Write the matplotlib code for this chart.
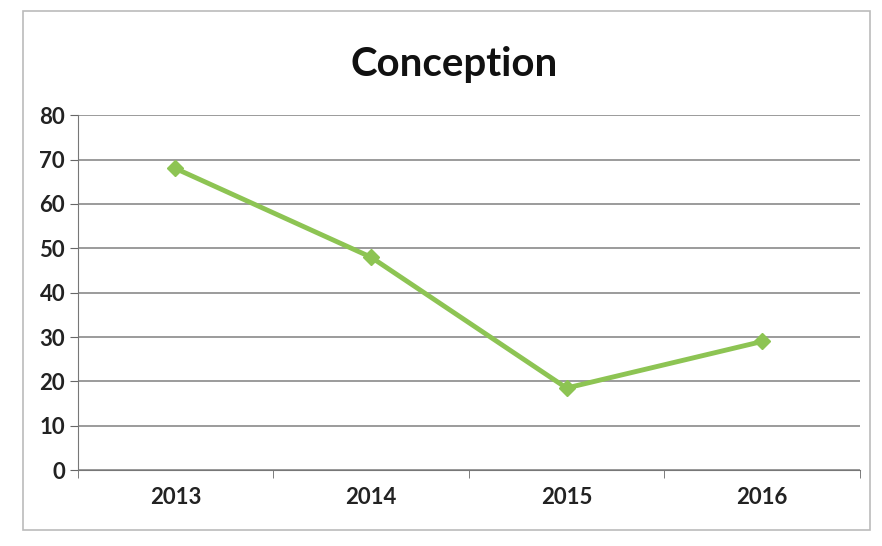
import numpy as np
import matplotlib.pyplot as plt
from matplotlib.patches import Rectangle

# data
years = ["2013", "2014", "2015", "2016"]
values = [68, 48, 18.5, 29]
y_ticks = [0, 10, 20, 30, 40, 50, 60, 70, 80]

plt.rcParams['font.family'] = ['Lato', 'DejaVu Sans']

fig = plt.figure(figsize=(8.82, 5.46), dpi=100)
ax = fig.add_axes([0.088, 0.139, 0.887, 0.650])

x = np.arange(1, len(years) + 1)
ax.plot(x, values, color="#8DC453", lw=3.5, marker="D", ms=8,
        mec="#8DC453", mfc="#8DC453", zorder=3)

ax.set_xlim(0.5, len(years) + 0.5)
ax.set_ylim(0, 80)
ax.set_yticks(y_ticks)
ax.set_yticklabels([str(v) for v in y_ticks], fontsize=16, fontweight="bold", color="#222222")
ax.set_xticks(x)
ax.set_xticklabels(years, fontsize=16, fontweight="bold", color="#222222")
ax.set_xticks(np.arange(0.5, len(years) + 1, 1), minor=True)
ax.tick_params(axis="x", which="major", length=0, pad=12)
ax.tick_params(axis="x", which="minor", length=6, color="#666666", direction="out")
ax.tick_params(axis="y", length=6, color="#666666", pad=3)

ax.grid(axis="y", color="#808080", lw=1.1)
ax.set_axisbelow(True)
for s in ["top", "right"]:
    ax.spines[s].set_visible(False)
ax.spines["left"].set_color("#777777")
ax.spines["bottom"].set_color("#777777")

fig.text(0.515, 0.882, "Conception", ha="center", va="center",
         fontsize=29, fontweight="bold", color="#111111")

# outer chart frame
fig.patches.append(Rectangle((0.026, 0.03), 0.96, 0.95, transform=fig.transFigure,
                             fill=False, ec="#bbbbbb", lw=1.2))

fig.savefig("out.png", dpi=100)
